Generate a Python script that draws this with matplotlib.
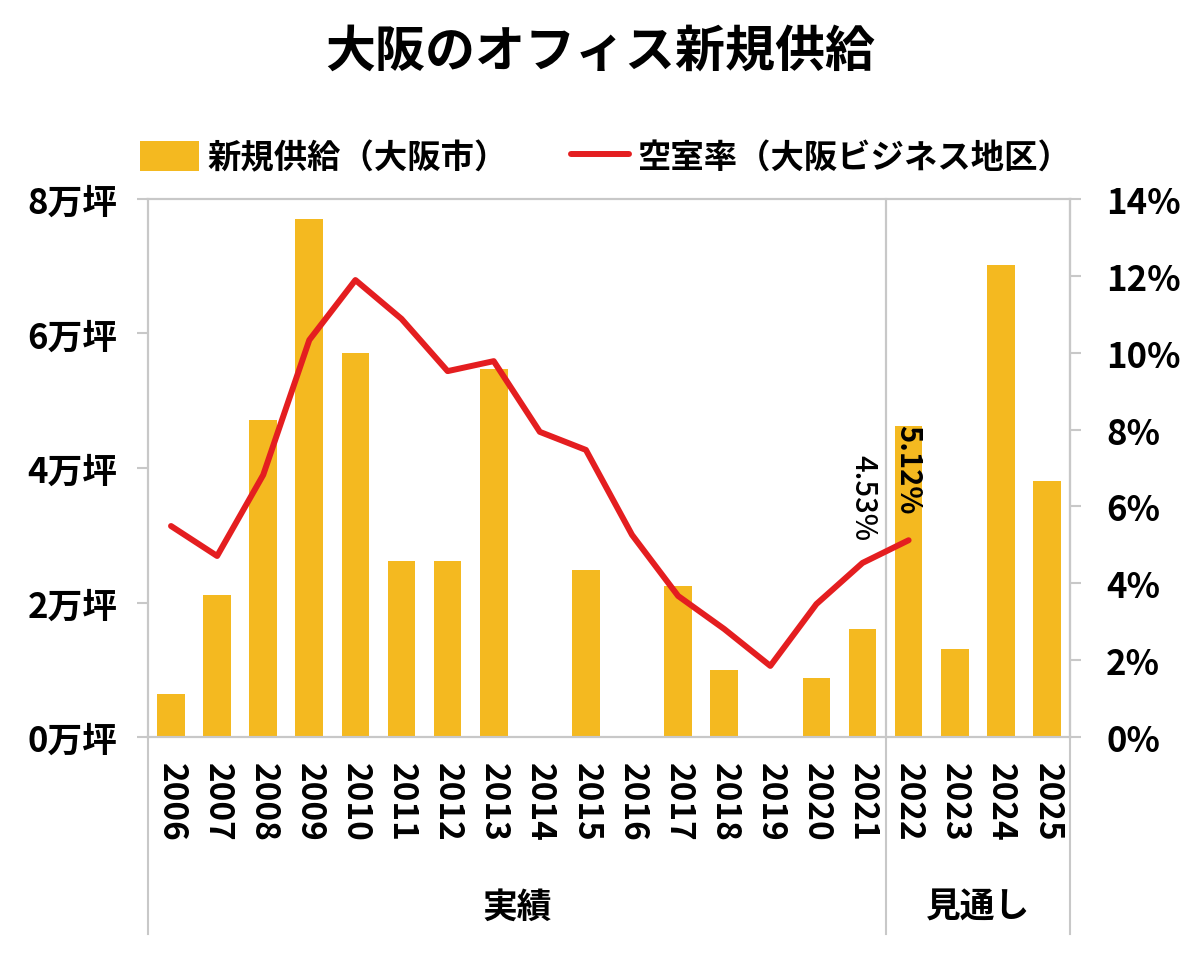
import matplotlib
matplotlib.use("Agg")
import matplotlib.pyplot as plt

plt.rcParams['font.family'] = ['Noto Sans CJK JP', 'DejaVu Sans']

years = [str(y) for y in range(2006, 2026)]
supply = [0.64, 2.11, 4.71, 7.70, 5.71, 2.62, 2.62, 5.47, 0, 2.48,
          0, 2.25, 1.00, 0, 0.88, 1.61, 4.62, 1.31, 7.02, 3.81]
vacancy = [5.49, 4.71, 6.82, 10.33, 11.89, 10.88, 9.52, 9.78, 7.94, 7.47,
           5.26, 3.67, 2.81, 1.85, 3.46, 4.53, 5.12]
left_ticks = [0, 2, 4, 6, 8]
right_ticks = [0, 2, 4, 6, 8, 10, 12, 14]

bar_color = '#F4B920'
line_color = '#E41E20'
grey = '#C8C8C8'

fig = plt.figure(figsize=(12.01, 9.54), dpi=100)
ax = fig.add_axes([0.1232, 0.2264, 0.7677, 0.564])
ax2 = ax.twinx()

x = list(range(len(years)))
ax.bar(x, supply, width=0.6, color=bar_color, label='新規供給（大阪市）', zorder=2)
ax2.plot(x[:len(vacancy)], vacancy, color=line_color, linewidth=4.3,
         solid_capstyle='round', label='空室率（大阪ビジネス地区）', zorder=3)

ax.set_xlim(-0.5, len(years) - 0.5)
ax.set_ylim(0, 8)
ax2.set_ylim(0, 14)

ax.set_yticks(left_ticks)
ax.set_yticklabels([f'{v}万坪' for v in left_ticks], fontsize=25, fontweight='bold')
ax2.set_yticks(right_ticks)
ax2.set_yticklabels([f'{v}%' for v in right_ticks], fontsize=25, fontweight='bold')
ax.set_xticks(x)
ax.set_xticklabels(years, rotation=-90, fontsize=24, fontweight='bold', va='top')

for a in (ax, ax2):
    for s in a.spines.values():
        s.set_color(grey)
        s.set_linewidth(1.5)
ax.tick_params(axis='y', length=8, width=1.5, color=grey, pad=14)
ax2.tick_params(axis='y', length=8, width=1.5, color=grey, pad=18)
ax.tick_params(axis='x', length=0, pad=18)

# extended frame lines below the axis and the separator
ylow = -0.366
sep = (15.5 + 0.5) / len(years)
for xv in (0, sep, 1):
    ax.plot([xv, xv], [ylow, 1 if xv != 0 else 0], transform=ax.transAxes,
            color=grey, linewidth=1.5, clip_on=False, zorder=1)
ax.plot([sep, sep], [0, 1], transform=ax.transAxes, color=grey,
        linewidth=1.5, zorder=1)

ax.text(sep / 2, -0.315, '実績', transform=ax.transAxes, ha='center',
        va='center', fontsize=25, fontweight='bold')
ax.text((sep + 1) / 2, -0.315, '見通し', transform=ax.transAxes, ha='center',
        va='center', fontsize=25, fontweight='bold')

# value labels
ax2.text(15, vacancy[15] + 0.6, f'{vacancy[15]:.2f}%', rotation=-90,
         ha='center', va='bottom', fontsize=21, fontweight='medium')
ax2.text(16, vacancy[16] + 0.7, f'{vacancy[16]:.2f}%', rotation=-90,
         ha='center', va='bottom', fontsize=21, fontweight='bold')

fig.text(0.5, 0.945, '大阪のオフィス新規供給', ha='center', va='center',
         fontsize=36, fontweight='bold')

h1, l1 = ax.get_legend_handles_labels()
h2, l2 = ax2.get_legend_handles_labels()
fig.legend(h1 + h2, l1 + l2, loc='center left', bbox_to_anchor=(0.092, 0.834),
           ncol=2, frameon=False, prop={'size': 24, 'weight': 'bold'},
           handlelength=1.75, handleheight=1.0, columnspacing=1.9, handletextpad=0.25)

fig.savefig('out.png', dpi=100)
